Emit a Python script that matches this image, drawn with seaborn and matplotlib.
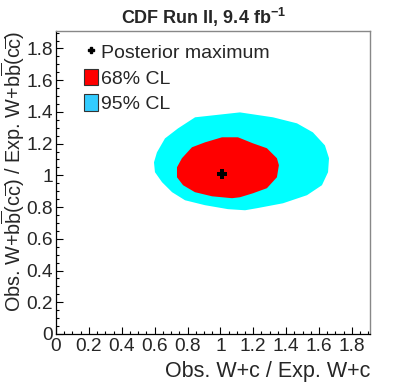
import matplotlib
matplotlib.use("Agg")
import matplotlib.pyplot as plt
import seaborn as sns
import numpy as np
import pandas as pd
from matplotlib.lines import Line2D
from matplotlib.patches import Patch
from matplotlib.ticker import MultipleLocator

# ---- data ----
cl95_x = [1.119, 0.846, 0.742, 0.663, 0.614, 0.596, 0.602, 0.645, 0.706, 0.785,
          0.906, 1.046, 1.150, 1.223, 1.381, 1.527, 1.618, 1.655, 1.661, 1.636,
          1.563, 1.466, 1.320]
cl95_y = [1.397, 1.366, 1.296, 1.233, 1.145, 1.082, 1.020, 0.957, 0.894, 0.843,
          0.812, 0.787, 0.780, 0.793, 0.824, 0.875, 0.938, 1.020, 1.108, 1.189,
          1.271, 1.328, 1.366]
cl68_x = [1.010, 0.906, 0.827, 0.766, 0.736, 0.736, 0.773, 0.845, 0.949, 1.071,
          1.119, 1.198, 1.283, 1.344, 1.356, 1.344, 1.283, 1.198, 1.107]
cl68_y = [1.240, 1.208, 1.177, 1.108, 1.051, 0.988, 0.938, 0.894, 0.868, 0.856,
          0.862, 0.887, 0.919, 0.988, 1.064, 1.108, 1.171, 1.202, 1.240]
max_x = [1.01]
max_y = [1.01]

legend_labels = ["Posterior maximum", "68% CL", "95% CL"]
title = r"CDF Run II, 9.4 fb$^{\mathbf{-1}}$"
xlabel = "Obs. W+c / Exp. W+c"
ylabel = (r"Obs. W+b$\overline{\mathrm{b}}$(c$\overline{\mathrm{c}}$) / "
          r"Exp. W+b$\overline{\mathrm{b}}$(c$\overline{\mathrm{c}}$)")

sns.set_theme(style="ticks")
plt.rcParams["font.family"] = ["Liberation Sans", "DejaVu Sans"]
plt.rcParams["mathtext.fontset"] = "custom"
plt.rcParams["mathtext.rm"] = "Liberation Sans"
plt.rcParams["mathtext.it"] = "Liberation Sans:italic"
plt.rcParams["mathtext.bf"] = "Liberation Sans:bold"

fig = plt.figure(figsize=(4.07, 3.90), dpi=100)
ax = fig.add_axes([0.1376, 0.1436, 0.909 - 0.1376, 0.9205 - 0.1436])

ax.fill(cl95_x, cl95_y, color="#00ffff", lw=0)
ax.fill(cl68_x, cl68_y, color="#ff0000", lw=0)
sns.scatterplot(x=max_x, y=max_y, marker="P", s=45, color="black",
                edgecolor="black", linewidth=0, ax=ax, zorder=5, legend=False)

ax.set_xlim(0, 1.91)
ax.set_ylim(0, 1.91)
ax.xaxis.set_major_locator(MultipleLocator(0.2))
ax.yaxis.set_major_locator(MultipleLocator(0.2))
ax.xaxis.set_minor_locator(MultipleLocator(0.05))
ax.yaxis.set_minor_locator(MultipleLocator(0.05))
fmt = matplotlib.ticker.FuncFormatter(lambda v, p: ("%g" % round(v, 2)))
ax.xaxis.set_major_formatter(fmt)
ax.yaxis.set_major_formatter(fmt)
ax.tick_params(which="major", direction="in", length=5, width=0.8,
               labelsize=13.8, color="black", pad=3)
ax.tick_params(axis="y", which="major", pad=2)
ax.tick_params(which="minor", direction="in", length=2.5, width=0.8, color="black")
ax.tick_params(top=False, right=False, which="both")

for s in ["left", "bottom"]:
    ax.spines[s].set_color("black")
    ax.spines[s].set_linewidth(0.9)
for s in ["top", "right"]:
    ax.spines[s].set_color("#888888")
    ax.spines[s].set_linewidth(1.0)

ax.set_xlabel(xlabel, fontsize=15.5, loc="right", labelpad=4)
ax.set_ylabel(ylabel, fontsize=14.3, loc="top")
ax.yaxis.set_label_coords(-0.091, 1.0)
fig.suptitle(title, fontsize=13, fontweight="bold", x=0.5, y=0.985)

handles = [
    Line2D([0], [0], marker="P", color="black", lw=0, markersize=5),
    Patch(facecolor="#ff0000", edgecolor="#333333", linewidth=0.8),
    Patch(facecolor="#33ccff", edgecolor="#333333", linewidth=0.8),
]
ax.legend(handles, legend_labels, loc="upper left", frameon=False,
          fontsize=14, handlelength=0.7, handleheight=0.95, handletextpad=0.2,
          labelspacing=0.35, bbox_to_anchor=(0.052, 1.0), borderaxespad=0.2)

fig.savefig("out.png", dpi=100)
